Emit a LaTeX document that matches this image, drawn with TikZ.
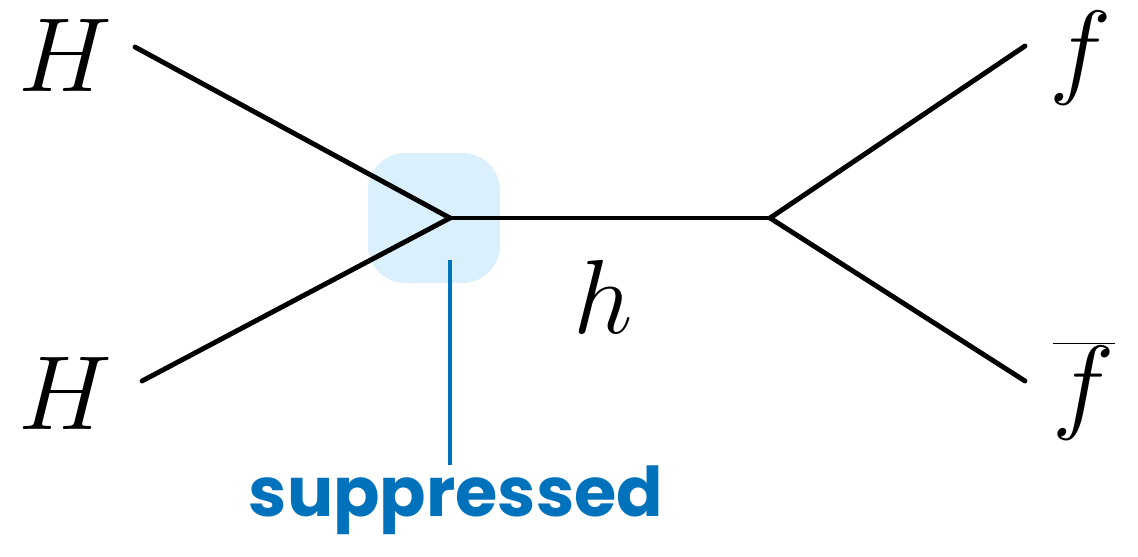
\documentclass[tikz,border=0pt]{standalone}
\usepackage{fix-cm}
\usepackage{fontspec}
\newfontfamily\notefont{Poppins}
\definecolor{noteblue}{RGB}{0,114,188}
\definecolor{vtxshade}{RGB}{219,240,253}
\usetikzlibrary{positioning, calc}
\tikzset{
  leg/.style={line width=2.8pt, black, line cap=round},
  extlabel/.style={font=\fontsize{60}{64}\selectfont, inner sep=0pt},
  callout/.style={line width=2.6pt, noteblue},
  blob/.style={fill=vtxshade, rounded corners=0.75cm, minimum width=2.64cm, minimum height=2.6cm, inner sep=0pt}
}

\begin{document}
\begin{tikzpicture}[x=0.02cm, y=-0.02cm]
        \useasboundingbox (0,0) rectangle (1138,556);
        \node[blob] (shade) at (434,218) {};
        \coordinate (v) at (450,218);
        \coordinate (w) at (770,218);
        % external legs
        \node[extlabel] (hup) at (65,55) {$H$};
        \node[extlabel] (hdn) at (65,393) {$H$};
        \node[extlabel] (fup) at (1081,58) {$f$};
        \node[extlabel] (fdn) at (1084,391) {$\overline{f}$};
        \coordinate (hupend) at (135,47);
        \coordinate (hdnend) at (142,381);
        \coordinate (fupend) at (1025,46);
        \coordinate (fdnend) at (1025,381);
        \draw[leg] (hupend) -- (v); \draw[leg] (hdnend) -- (v);
        \draw[leg] (v) -- (w);
        \draw[leg] (w) -- (fupend); \draw[leg] (w) -- (fdnend);
        \node[extlabel] (hprop) at (603,297) {$h$};
        % annotation
        \coordinate (tag) at (450,260);
        \node[noteblue, font=\notefont\bfseries\fontsize{39}{42}\selectfont, inner sep=0pt, anchor=base] (note) at (456,516) {suppressed};
        \draw[callout] (tag) -- (tag |- note.north);
      \end{tikzpicture}
\end{document}
